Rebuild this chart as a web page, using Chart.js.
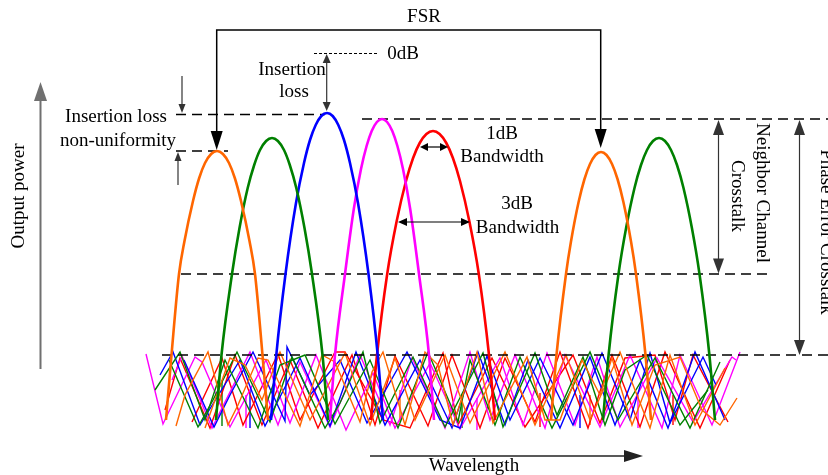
<!DOCTYPE html>
<html>
<head>
<meta charset="utf-8">
<script src="https://cdn.jsdelivr.net/npm/chart.js@4.4.1/dist/chart.umd.min.js"></script>
<style>
  html, body { margin: 0; padding: 0; background: #fff; }
  canvas { display: block; }
</style>
</head>
<body>
<canvas id="awgChart" width="828" height="475"></canvas>
<script>
// x = wavelength (a.u.), y = loss below the top of the figure (a.u., grows downward)
const peakOrange1 = [[166,420],[171.5,355],[179,274],[184.5,241],[193,201],[199.2,178],[205,163],[211.1,154],[217,151],[222.9,154],[229,163],[234.8,178],[241,201],[249.5,241],[255,274],[262.5,355],[268,420]];
const peakGreen1  = [[216,420],[221.5,355],[232,274],[239.5,228],[247.7,188],[254.2,165],[260,150],[266.1,141],[272,138],[277.9,141],[284,150],[289.8,165],[296.3,188],[304.5,228],[312,274],[322.5,355],[328,420]];
const peakBlue    = [[271,420],[276.3,355],[285.5,274],[296,203],[304,163],[310,140],[315.7,125],[321.3,116],[327,113],[332.7,116],[338.3,125],[344,140],[350,163],[358,203],[368.5,274],[377.7,355],[383,420]];
const peakMagenta = [[330,420],[335,355],[345,274],[353.8,209],[361,169],[366.6,146],[371.7,131],[376.9,122],[382,119],[387.1,122],[392.3,131],[397.4,146],[403,169],[410.2,209],[419,274],[429,355],[434,420]];
const peakRed     = [[371,420],[377,355],[387.2,274],[396.7,221],[406,181],[413.1,158],[419.7,143],[426.4,134],[433,131],[439.6,134],[446.3,143],[452.9,158],[460,181],[469.3,221],[478.8,274],[489,355],[495,420]];
const peakOrange2 = [[551,420],[556.5,355],[566,274],[570.9,242],[578.6,202],[584.5,179],[590,164],[595.5,155],[601,152],[606.5,155],[612,164],[617.5,179],[623.4,202],[631.1,242],[636,274],[645.5,355],[651,420]];
const peakGreen2  = [[603,420],[608.6,355],[618.5,274],[626.1,228],[634.5,188],[641,165],[647,150],[653,141],[659,138],[665,141],[671,150],[677,165],[683.5,188],[691.9,228],[699.5,274],[709.4,355],[715,420]];

// background crosstalk noise, two traces per colour
const noiseOrange   = [[176,426],[185,395],[208,352],[228,425],[238,405],[258,358],[268,360],[300,426],[322,355],[335,362],[360,422],[372,372],[383,352],[405,425],[425,352],[438,365],[453,425],[477,352],[493,423],[527,357],[545,420],[560,420],[582,360],[600,395],[612,358],[632,425],[655,365],[680,357],[702,410],[720,425],[737,398]];
const noiseOrangeB  = [[205,428],[230,358],[245,365],[262,400],[280,352],[310,420],[345,353],[370,425],[395,358],[415,420],[445,355],[470,423],[505,352],[535,425],[566,355],[590,420],[620,352],[650,428],[670,355],[695,425],[725,368]];
const noiseGreen    = [[169,360],[198,427],[213,400],[237,352],[270,422],[292,357],[325,428],[340,403],[363,352],[380,423],[413,357],[445,427],[483,353],[503,427],[535,353],[557,415],[583,357],[605,425],[625,370],[647,355],[680,425],[708,390]];
const noiseGreenB   = [[155,390],[180,352],[205,420],[225,360],[258,428],[280,365],[305,355],[335,424],[370,360],[398,428],[428,352],[458,422],[470,360],[495,425],[520,357],[552,428],[590,352],[618,420],[655,358],[690,428],[720,362]];
const noiseBlue     = [[184,360],[214,427],[230,395],[253,352],[285,421],[287,347],[310,395],[340,360],[367,423],[407,352],[440,420],[460,428],[487,356],[510,420],[540,358],[573,425],[602,353],[630,420],[650,353],[670,423],[703,357],[716,385]];
const noiseBlueB    = [[160,375],[173,352],[200,425],[240,360],[265,426],[300,358],[330,426],[356,352],[385,425],[420,360],[452,428],[478,352],[505,425],[528,360],[560,428],[590,357],[615,425],[640,360],[668,428],[695,352],[725,420]];
const noiseMagenta  = [[146,354],[163,424],[195,357],[202,362],[230,427],[266,360],[290,423],[316,355],[346,430],[373,373],[395,428],[430,363],[460,429],[500,358],[523,425],[547,353],[575,425],[597,357],[620,427],[657,358],[693,422],[732,357],[736,360]];
const noiseMagentaB = [[172,380],[182,356],[212,428],[250,352],[278,425],[300,362],[330,427],[360,355],[390,425],[412,358],[445,428],[470,352],[490,420],[515,355],[545,428],[565,355],[600,427],[630,355],[662,428],[680,355],[712,425],[740,352]];
const noiseRed      = [[192,422],[222,358],[243,425],[278,354],[300,420],[335,352],[345,352],[383,420],[410,428],[443,353],[458,425],[492,358],[525,427],[573,355],[600,423],[625,358],[655,355],[675,420],[693,355],[728,422]];
const noiseRedB     = [[165,410],[180,358],[210,428],[235,355],[262,425],[290,360],[318,428],[352,355],[375,425],[395,356],[428,426],[452,355],[480,428],[505,358],[535,422],[560,352],[588,428],[612,355],[640,427],[665,352],[700,428],[730,360]];

// short vertical spikes in the noise, null separates them
const spikesOrange  = [[400,390],[400,422],[400,null],[590,395],[590,425]];
const spikesGreen   = [[462,395],[462,428],[462,null],[222,380],[222,426]];
const spikesBlue    = [[250,390],[250,428],[250,null],[580,395],[580,428]];
const spikesMagenta = [[246,395],[246,428],[246,null],[477,398],[477,430],[477,null],[638,395],[638,428]];
const spikesRed     = [[540,393],[540,427],[540,null],[673,395],[673,425]];

// reference levels (dashed)
const levelTopLeft  = [[176,114.5],[325,114.5]];
const levelTopRight = [[362,119],[828,119]];
const levelNonUni   = [[176,151],[228,151]];
const level0dB      = [[314,53.5],[378,53.5]];
const levelNeighbor = [[181,274],[767,274]];
const levelFloor    = [[162,355],[828,355]];

const colors = {
    orange: '#ff6600',
    green: '#008000',
    blue: '#0000ff',
    magenta: '#ff00ff',
    red: '#ff0000'
};

function pts(arr) {
    return arr.map(p => ({ x: p[0], y: p[1] }));
}

function curve(arr, color) {
    return { data: pts(arr), borderColor: color, borderWidth: 2.6, pointRadius: 0, cubicInterpolationMode: 'monotone', fill: false };
}

function noise(arr, color) {
    return { data: pts(arr), borderColor: color, borderWidth: 1.4, pointRadius: 0, tension: 0, fill: false, spanGaps: false };
}

function dashed(arr, dash, width) {
    return { data: pts(arr), borderColor: '#000', borderWidth: width, borderDash: dash, pointRadius: 0, tension: 0, fill: false };
}

const datasets = [
    curve(peakOrange1, colors.orange),
    curve(peakGreen1, colors.green),
    curve(peakBlue, colors.blue),
    curve(peakMagenta, colors.magenta),
    curve(peakRed, colors.red),
    curve(peakOrange2, colors.orange),
    curve(peakGreen2, colors.green),
    dashed(levelTopLeft, [10, 6], 1.3),
    dashed(levelTopRight, [10, 6], 1.3),
    dashed(levelNonUni, [10, 6], 1.3),
    dashed(level0dB, [3, 2], 1),
    dashed(levelNeighbor, [10, 6], 1.3),
    dashed(levelFloor, [10, 6], 1.3),
    noise(noiseOrange, colors.orange),
    noise(noiseOrangeB, colors.orange),
    noise(noiseGreen, colors.green),
    noise(noiseGreenB, colors.green),
    noise(noiseBlue, colors.blue),
    noise(noiseBlueB, colors.blue),
    noise(noiseMagenta, colors.magenta),
    noise(noiseMagentaB, colors.magenta),
    noise(noiseRed, colors.red),
    noise(noiseRedB, colors.red),
    noise(spikesOrange, colors.orange),
    noise(spikesGreen, colors.green),
    noise(spikesBlue, colors.blue),
    noise(spikesMagenta, colors.magenta),
    noise(spikesRed, colors.red)
];

// arrows: from, to, head length, head half width, both ends?
const arrows = [
    { from: [40.5, 369], to: [40.5, 82], head: 19, half: 6.5, both: false, color: '#707070', width: 2 },
    { from: [370, 456], to: [643, 456], head: 19, half: 6, both: false, color: '#222', width: 1.5 },
    { from: [216.7, 131], to: [216.7, 150], head: 19, half: 6, both: false, color: '#000', width: 1.5 },
    { from: [600.7, 131], to: [600.7, 148], head: 19, half: 6, both: false, color: '#000', width: 1.5 },
    { from: [326.7, 54], to: [326.7, 111], head: 9, half: 4, both: true, color: '#333', width: 1.2 },
    { from: [182, 76], to: [182, 113], head: 9, half: 3.5, both: false, color: '#333', width: 1.2 },
    { from: [178, 185], to: [178, 152], head: 9, half: 3.5, both: false, color: '#333', width: 1.2 },
    { from: [420, 147], to: [448, 147], head: 8, half: 4, both: true, color: '#000', width: 1.2 },
    { from: [398, 222], to: [470, 222], head: 9, half: 4, both: true, color: '#000', width: 1.2 },
    { from: [718.5, 120], to: [718.5, 273.5], head: 15, half: 5.5, both: true, color: '#333', width: 1.2 },
    { from: [799.5, 120], to: [799.5, 355], head: 15, half: 5.5, both: true, color: '#333', width: 1.2 }
];

// FSR bracket
const fsrPath = [[216.7, 131], [216.7, 30], [600.7, 30], [600.7, 131]];

const labels = [
    { text: 'FSR', at: [424, 17], rot: 0 },
    { text: '0dB', at: [403, 54], rot: 0 },
    { text: 'Insertion', at: [292, 70], rot: 0 },
    { text: 'loss', at: [294, 92], rot: 0 },
    { text: 'Insertion loss', at: [116, 117], rot: 0 },
    { text: 'non-uniformity', at: [118, 141], rot: 0 },
    { text: '1dB', at: [502, 134], rot: 0 },
    { text: 'Bandwidth', at: [502, 157], rot: 0 },
    { text: '3dB', at: [517, 204], rot: 0 },
    { text: 'Bandwidth', at: [517.5, 228], rot: 0 },
    { text: 'Output power', at: [19, 196], rot: -90 },
    { text: 'Wavelength', at: [474, 466], rot: 0 },
    { text: 'Neighbor Channel', at: [762, 193], rot: 90 },
    { text: 'Crosstalk', at: [737, 196], rot: 90 },
    { text: 'Phase Error Crosstalk', at: [826, 232], rot: 90 }
];

const annotationPlugin = {
    id: 'annotations',
    afterDatasetsDraw(chart) {
        const ctx = chart.ctx;
        const xs = chart.scales.x;
        const ys = chart.scales.y;
        const px = p => [xs.getPixelForValue(p[0]), ys.getPixelForValue(p[1])];

        ctx.save();

        // FSR bracket
        ctx.strokeStyle = '#000';
        ctx.lineWidth = 1.5;
        ctx.beginPath();
        fsrPath.forEach((p, i) => {
            const q = px(p);
            if (i === 0) ctx.moveTo(q[0], q[1]); else ctx.lineTo(q[0], q[1]);
        });
        ctx.stroke();

        function head(tip, dx, dy, len, half, color) {
            ctx.fillStyle = color;
            ctx.beginPath();
            ctx.moveTo(tip[0], tip[1]);
            ctx.lineTo(tip[0] - dx * len - dy * half, tip[1] - dy * len + dx * half);
            ctx.lineTo(tip[0] - dx * len + dy * half, tip[1] - dy * len - dx * half);
            ctx.closePath();
            ctx.fill();
        }

        arrows.forEach(a => {
            const p1 = px(a.from);
            const p2 = px(a.to);
            const L = Math.hypot(p2[0] - p1[0], p2[1] - p1[1]);
            const dx = (p2[0] - p1[0]) / L;
            const dy = (p2[1] - p1[1]) / L;
            ctx.strokeStyle = a.color;
            ctx.lineWidth = a.width;
            ctx.beginPath();
            ctx.moveTo(p1[0] + (a.both ? dx * a.head * 0.8 : 0), p1[1] + (a.both ? dy * a.head * 0.8 : 0));
            ctx.lineTo(p2[0] - dx * a.head * 0.8, p2[1] - dy * a.head * 0.8);
            ctx.stroke();
            head(p2, dx, dy, a.head, a.half, a.color);
            if (a.both) head(p1, -dx, -dy, a.head, a.half, a.color);
        });

        ctx.fillStyle = '#000';
        ctx.font = '19px "Liberation Serif", "Times New Roman", serif';
        ctx.textAlign = 'center';
        ctx.textBaseline = 'middle';
        labels.forEach(l => {
            const q = px(l.at);
            ctx.save();
            ctx.translate(q[0], q[1]);
            ctx.rotate(l.rot * Math.PI / 180);
            ctx.fillText(l.text, 0, 0);
            ctx.restore();
        });

        ctx.restore();
    }
};

new Chart(document.getElementById('awgChart'), {
    type: 'line',
    data: { datasets: datasets },
    options: {
        responsive: false,
        animation: false,
        devicePixelRatio: 1,
        layout: { padding: 0 },
        scales: {
            x: { type: 'linear', min: 0, max: 828, display: false },
            y: { type: 'linear', min: 0, max: 475, reverse: true, display: false }
        },
        plugins: {
            legend: { display: false },
            tooltip: { enabled: false }
        }
    },
    plugins: [annotationPlugin]
});
</script>
</body>
</html>
